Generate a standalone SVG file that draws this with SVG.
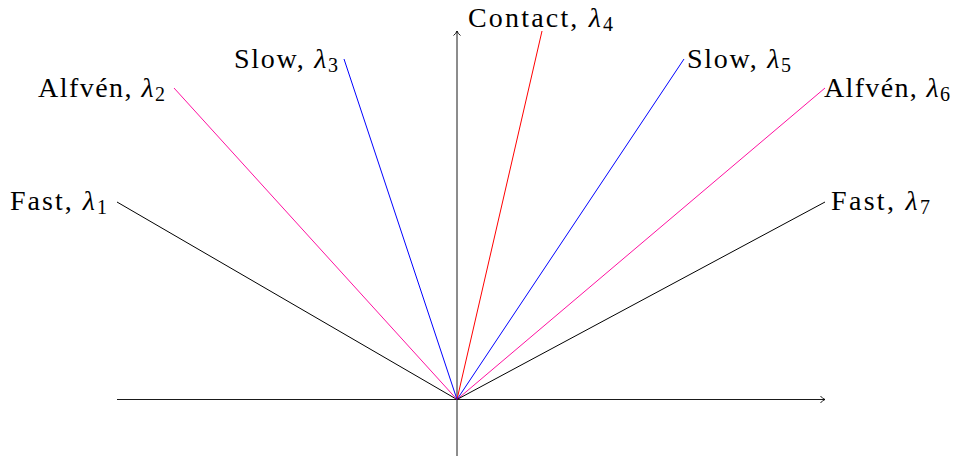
<svg xmlns="http://www.w3.org/2000/svg" width="954" height="456" viewBox="0 0 954 456">
<defs>
<marker id="to" markerWidth="10" markerHeight="10" refX="7" refY="5" orient="auto" markerUnits="userSpaceOnUse">
<path d="M2.5,1.5 Q4.5,4.2 7,5 Q4.5,5.8 2.5,8.5" fill="none" stroke="#000" stroke-width="0.9"/>
</marker>
</defs>
<style>
.ax{stroke:#000;stroke-width:0.9;fill:none}
.w{stroke-width:1;fill:none}
.mg{stroke:#ff10a0}
text{font-family:"Liberation Serif","DejaVu Serif",serif;font-size:28px;fill:#000}
.sub{font-size:20px}
</style>
<rect width="954" height="456" fill="#fff"/>
<g id="axes">
<line class="ax" x1="117" y1="399.5" x2="825" y2="399.5" marker-end="url(#to)"/>
<line class="ax" x1="457" y1="456" x2="457" y2="31" marker-end="url(#to)"/>
</g>
<g id="connectors">
<line class="w" stroke="#000" x1="457" y1="399.5" x2="117" y2="202"/>
<line class="w mg" x1="457" y1="399.5" x2="174" y2="88"/>
<line class="w" stroke="#0000ff" x1="457" y1="399.5" x2="344" y2="59"/>
<line class="w" stroke="#ff0000" x1="457" y1="399.5" x2="542" y2="31"/>
<line class="w" stroke="#0000ff" x1="457" y1="399.5" x2="684" y2="59"/>
<line class="w mg" x1="457" y1="399.5" x2="825" y2="88"/>
<line class="w" stroke="#000" x1="457" y1="399.5" x2="825" y2="202"/>
</g>
<g id="n1"><text x="10" y="210" textLength="97" lengthAdjust="spacing">Fast, <tspan font-style="italic">λ</tspan><tspan class="sub" dy="4">1</tspan></text></g>
<g id="n2"><text x="38" y="97" textLength="127" lengthAdjust="spacing">Alfvén, <tspan font-style="italic">λ</tspan><tspan class="sub" dy="4">2</tspan></text></g>
<g id="n3"><text x="234" y="68" textLength="104" lengthAdjust="spacing">Slow, <tspan font-style="italic">λ</tspan><tspan class="sub" dy="4">3</tspan></text></g>
<g id="n4"><text x="468" y="27" textLength="145" lengthAdjust="spacing">Contact, <tspan font-style="italic">λ</tspan><tspan class="sub" dy="4">4</tspan></text></g>
<g id="n5"><text x="687" y="68" textLength="104" lengthAdjust="spacing">Slow, <tspan font-style="italic">λ</tspan><tspan class="sub" dy="4">5</tspan></text></g>
<g id="n6"><text x="824" y="97" textLength="126" lengthAdjust="spacing">Alfvén, <tspan font-style="italic">λ</tspan><tspan class="sub" dy="4">6</tspan></text></g>
<g id="n7"><text x="831" y="210" textLength="99" lengthAdjust="spacing">Fast, <tspan font-style="italic">λ</tspan><tspan class="sub" dy="4">7</tspan></text></g>
</svg>
